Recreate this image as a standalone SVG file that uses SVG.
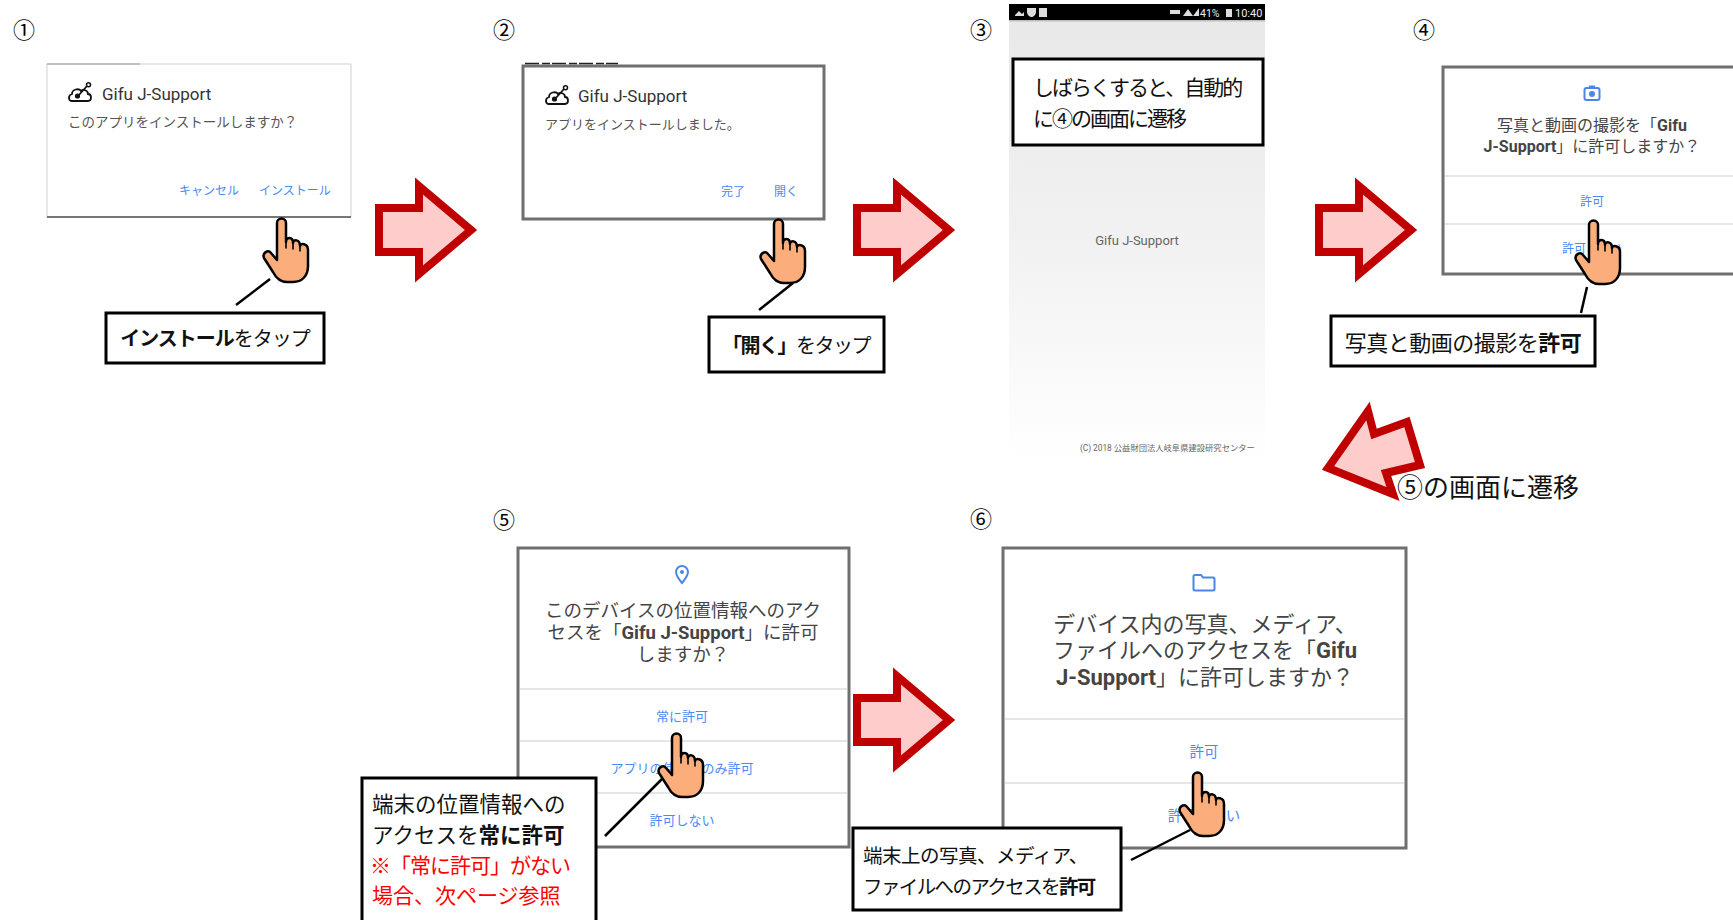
<svg xmlns="http://www.w3.org/2000/svg" xmlns:xlink="http://www.w3.org/1999/xlink" width="1733" height="920" viewBox="0 0 1733 920">
  <style>
    .num { font-family: "Noto Sans CJK JP", sans-serif; font-size: 22px; fill: #000; text-anchor: middle; }
    .dlg { fill: #fff; stroke: #6f6f6f; stroke-width: 3; }
    .divider { stroke: #e6e6e6; stroke-width: 2; }
    .title { font-family: Roboto, "Noto Sans CJK JP", sans-serif; font-size: 17px; fill: #333; }
    .body { font-family: Roboto, "Noto Sans CJK JP", sans-serif; font-size: 13.5px; fill: #555; }
    .btn { font-family: Roboto, "Noto Sans CJK JP", sans-serif; font-size: 12px; fill: #4a8af4; }
    .btnc { font-family: Roboto, "Noto Sans CJK JP", sans-serif; fill: #4a8af4; text-anchor: middle; }
    .ask { font-family: Roboto, "Noto Sans CJK JP", sans-serif; fill: #444; text-anchor: middle; }
    .callout { fill: #fff; stroke: #000; stroke-width: 3; }
    .ctext { font-family: "Noto Sans CJK JP", sans-serif; fill: #111; }
    .red { fill: #ff0000; }
    .b { font-weight: 700; }
    .leader { stroke: #000; stroke-width: 2.5; fill: none; }
    .arrow { fill: #ffcccc; stroke: #c00000; stroke-width: 8; stroke-linejoin: miter; stroke-miterlimit: 10; }
    .hand { fill: #fbae7b; stroke: #000; stroke-width: 2.5; stroke-linejoin: round; }
    .crease { fill: none; stroke: #000; stroke-width: 1.6; stroke-linecap: round; }
    .icon-blue { fill: none; stroke: #4a86e8; stroke-width: 2; }
  </style>
  <defs>
    <linearGradient id="splash" x1="0" y1="0" x2="0" y2="1">
      <stop offset="0" stop-color="#e8e8e8"/>
      <stop offset="0.5" stop-color="#f1f1f1"/>
      <stop offset="1" stop-color="#ffffff"/>
    </linearGradient>
    <!-- block arrow pointing right, 103 x 106 -->
    <path id="step-arrow" class="arrow" d="M4,31 H44 V9 L96,53 L44,97 V75 H4 Z"/>
    <!-- pointing hand, about 48 x 64 -->
    <g id="tap-hand">
      <path class="hand" d="M15,5 A4.5,4.5 0 0 1 24,5 L24,24 C24,19 31,18 31,25 C31,21 38,21 38,28 C38,25 46,25 46,32 L46,48 C46,58 40,64 31,64 L25,64 C18,64 14,60 11,54 L2,40 C0,35 6,31 9,35 L15,42 Z"/>
      <path class="crease" d="M24,24 L24,30 M31,25 L31,31 M38,28 L38,33"/>
    </g>
    <!-- app logo -->
    <g id="app-logo">
      <path d="M4,19 C0,19 0,13 4,12 C4,7 11,6 13,9 C15,7 20,8 20,12 C24,12 24,19 20,19 Z" fill="none" stroke="#111" stroke-width="1.8"/>
      <circle cx="9.5" cy="14" r="2.6" fill="#111"/>
      <path d="M10,14 L19,4" stroke="#111" stroke-width="1.8"/>
      <circle cx="20.5" cy="2.8" r="2" fill="none" stroke="#111" stroke-width="1.5"/>
    </g>
  </defs>

  <rect width="1733" height="920" fill="#fff"/>

  <!-- step 1: install prompt -->
  <g id="step1">
    <text class="num" x="24" y="38">①</text>
    <rect x="47" y="64" width="304" height="153" fill="#fff" stroke="#cfcfcf" stroke-width="1"/>
    <line x1="47" y1="64" x2="140" y2="64" stroke="#999" stroke-width="1"/>
    <line x1="47" y1="217" x2="351" y2="217" stroke="#777" stroke-width="2"/>
    <use xlink:href="#app-logo" x="68" y="82"/>
    <text class="title" x="102" y="100">Gifu J-Support</text>
    <text class="body" x="68" y="127">このアプリをインストールしますか？</text>
    <text class="btn" x="179" y="195">キャンセル</text>
    <text class="btn" x="259" y="195">インストール</text>
  </g>

  <!-- step 2: install finished -->
  <g id="step2">
    <text class="num" x="504" y="38">②</text>
    <rect class="dlg" x="523" y="66" width="301" height="153"/>
    <line x1="525" y1="63.5" x2="618" y2="63.5" stroke="#222" stroke-width="1.5" stroke-dasharray="14 3 8 2"/>
    <use xlink:href="#app-logo" x="545" y="85"/>
    <text class="title" x="578" y="102">Gifu J-Support</text>
    <text class="body" x="545" y="129" style="font-size:13px">アプリをインストールしました。</text>
    <text class="btn" x="721" y="196">完了</text>
    <text class="btn" x="774" y="196">開く</text>
  </g>

  <!-- step 3: splash screen -->
  <g id="step3">
    <text class="num" x="981" y="38">③</text>
    <rect x="1009" y="4" width="256" height="456" fill="url(#splash)"/>
    <rect x="1009" y="4" width="256" height="16" fill="#000"/>
    <rect x="1009" y="20" width="256" height="1.5" fill="#bdbdbd"/>
    <g fill="#ddd">
      <path d="M1015,15 L1019,11 L1022,14 L1024,12 L1024,16 L1015,16 Z"/>
      <path d="M1027,8 H1036 V12 C1036,15 1033,17 1031.5,17 C1030,17 1027,15 1027,12 Z"/>
      <rect x="1039" y="8" width="8" height="9"/>
      <rect x="1170" y="10" width="10" height="4"/>
      <path d="M1183,16 L1188,9 L1193,16 Z"/>
      <path d="M1193,16 L1199,8 L1199,16 Z"/>
      <rect x="1226" y="9" width="6" height="8"/>
    </g>
    <text x="1200" y="16.5" font-family="Roboto, sans-serif" font-size="10.5" fill="#eee">41%</text>
    <text x="1235" y="16.5" font-family="Roboto, sans-serif" font-size="11" fill="#eee">10:40</text>
    <rect class="callout" x="1013" y="59" width="250" height="86"/>
    <text class="ctext" x="1033" y="95" font-size="21" letter-spacing="-2">しばらくすると、自動的</text>
    <text class="ctext" x="1033" y="126" font-size="21" letter-spacing="-2">に④の画面に遷移</text>
    <text x="1137" y="245" font-family="Roboto, sans-serif" font-size="13" fill="#666" text-anchor="middle">Gifu J-Support</text>
    <text x="1080" y="451" font-family="Roboto, 'Noto Sans CJK JP', sans-serif" font-size="8.3" fill="#666">(C) 2018 公益財団法人岐阜県建設研究センター</text>
  </g>

  <!-- step 4: camera permission -->
  <g id="step4">
    <text class="num" x="1424" y="38">④</text>
    <rect class="dlg" x="1443" y="67" width="300" height="207"/>
    <g transform="translate(1592,94)">
      <rect class="icon-blue" x="-7.5" y="-6" width="15" height="12" rx="2"/>
      <rect x="-3" y="-8.5" width="6" height="3" fill="#4a86e8"/>
      <circle r="3" fill="#4a86e8"/>
    </g>
    <text class="ask" x="1592" y="131" font-size="16">写真と動画の撮影を「<tspan class="b">Gifu</tspan></text>
    <text class="ask" x="1592" y="152" font-size="16"><tspan class="b">J-Support</tspan>」に許可しますか？</text>
    <line class="divider" x1="1445" y1="176" x2="1733" y2="176"/>
    <line class="divider" x1="1445" y1="224" x2="1733" y2="224"/>
    <text class="btnc" x="1592" y="206" font-size="12">許可</text>
    <text class="btnc" x="1592" y="253" font-size="12">許可しない</text>
  </g>

  <!-- step 5: location permission -->
  <g id="step5">
    <text class="num" x="504" y="528">⑤</text>
    <rect class="dlg" x="518" y="548" width="331" height="299"/>
    <path class="icon-blue" d="M682,583 C677,577 676,574 676,572 A6,6 0 1 1 688,572 C688,574 687,577 682,583 Z"/>
    <circle cx="682" cy="572" r="2" fill="#4a86e8"/>
    <text class="ask" x="683" y="617" font-size="18.5">このデバイスの位置情報へのアク</text>
    <text class="ask" x="683" y="639" font-size="18.5">セスを「<tspan class="b">Gifu J-Support</tspan>」に許可</text>
    <text class="ask" x="683" y="661" font-size="18.5">しますか？</text>
    <line class="divider" x1="520" y1="689" x2="847" y2="689"/>
    <line class="divider" x1="520" y1="741" x2="847" y2="741"/>
    <line class="divider" x1="520" y1="793" x2="847" y2="793"/>
    <text class="btnc" x="682" y="721" font-size="13">常に許可</text>
    <text class="btnc" x="682" y="773" font-size="13">アプリの使用中のみ許可</text>
    <text class="btnc" x="682" y="825" font-size="13">許可しない</text>
  </g>

  <!-- step 6: storage permission -->
  <g id="step6">
    <text class="num" x="981" y="527">⑥</text>
    <rect class="dlg" x="1003" y="548" width="403" height="300"/>
    <path class="icon-blue" d="M1195,575 H1201 L1203,577.5 H1213 A1.5,1.5 0 0 1 1214.5,579 V589 A1.5,1.5 0 0 1 1213,590.5 H1195 A1.5,1.5 0 0 1 1193.5,589 V576.5 A1.5,1.5 0 0 1 1195,575 Z"/>
    <text class="ask" x="1205" y="632" font-size="22">デバイス内の写真、メディア、</text>
    <text class="ask" x="1205" y="658" font-size="22">ファイルへのアクセスを「<tspan class="b">Gifu</tspan></text>
    <text class="ask" x="1205" y="685" font-size="22"><tspan class="b">J-Support</tspan>」に許可しますか？</text>
    <line class="divider" x1="1005" y1="719" x2="1404" y2="719"/>
    <line class="divider" x1="1005" y1="783" x2="1404" y2="783"/>
    <text class="btnc" x="1204" y="757" font-size="14.5">許可</text>
    <text class="btnc" x="1204" y="821" font-size="14.5">許可しない</text>
  </g>

  <!-- taps -->
  <g id="taps">
    <use xlink:href="#tap-hand" x="262" y="218"/>
    <use xlink:href="#tap-hand" x="759" y="219"/>
    <use xlink:href="#tap-hand" x="1574" y="220"/>
    <use xlink:href="#tap-hand" x="657" y="733"/>
    <use xlink:href="#tap-hand" x="1178" y="772"/>
  </g>

  <!-- flow arrows and leader lines -->
  <g id="connectors">
    <use xlink:href="#step-arrow" x="375" y="177"/>
    <use xlink:href="#step-arrow" x="853" y="177"/>
    <use xlink:href="#step-arrow" x="1315" y="177"/>
    <use xlink:href="#step-arrow" x="853" y="667"/>
    <polygon class="arrow" points="1328,468 1368,411 1374,434 1407,422 1420,465 1386,473 1393,494"/>
    <line class="leader" x1="270" y1="279" x2="236" y2="305"/>
    <line class="leader" x1="793" y1="283" x2="759" y2="310"/>
    <line class="leader" x1="1587" y1="287" x2="1581" y2="313"/>
    <line class="leader" x1="662" y1="779" x2="605" y2="836"/>
    <line class="leader" x1="1190" y1="830" x2="1131" y2="860"/>
  </g>

  <!-- notes -->
  <g id="note-install">
    <rect class="callout" x="106" y="313" width="218" height="50"/>
    <text class="ctext" x="215" y="346" font-size="20" letter-spacing="-1" text-anchor="middle"><tspan class="b">インストール</tspan>をタップ</text>
  </g>
  <g id="note-open">
    <rect class="callout" x="709" y="317" width="175" height="55"/>
    <text class="ctext" x="796" y="353" font-size="20" letter-spacing="-1.5" text-anchor="middle"><tspan class="b">「開く」</tspan>をタップ</text>
  </g>
  <g id="note-camera">
    <rect class="callout" x="1331" y="316" width="264" height="50"/>
    <text class="ctext" x="1463" y="351" font-size="22" letter-spacing="-0.5" text-anchor="middle">写真と動画の撮影を<tspan class="b">許可</tspan></text>
  </g>
  <g id="note-next">
    <text class="ctext" x="1397" y="497" font-size="26">⑤の画面に遷移</text>
  </g>
  <g id="note-location">
    <rect class="callout" x="362" y="778" width="234" height="150"/>
    <text class="ctext" x="372" y="812" font-size="21.5">端末の位置情報への</text>
    <text class="ctext" x="372" y="843" font-size="21.5">アクセスを<tspan class="b">常に許可</tspan></text>
    <text class="ctext red" x="370" y="873" font-size="21" letter-spacing="-1">※「常に許可」がない</text>
    <text class="ctext red" x="372" y="903" font-size="21">場合、次ページ参照</text>
  </g>
  <g id="note-storage">
    <rect class="callout" x="853" y="828" width="268" height="82"/>
    <text class="ctext" x="863" y="863" font-size="19.5" letter-spacing="-0.5">端末上の写真、メディア、</text>
    <text class="ctext" x="863" y="894" font-size="19.5" letter-spacing="-1.6">ファイルへのアクセスを<tspan class="b">許可</tspan></text>
  </g>
</svg>
